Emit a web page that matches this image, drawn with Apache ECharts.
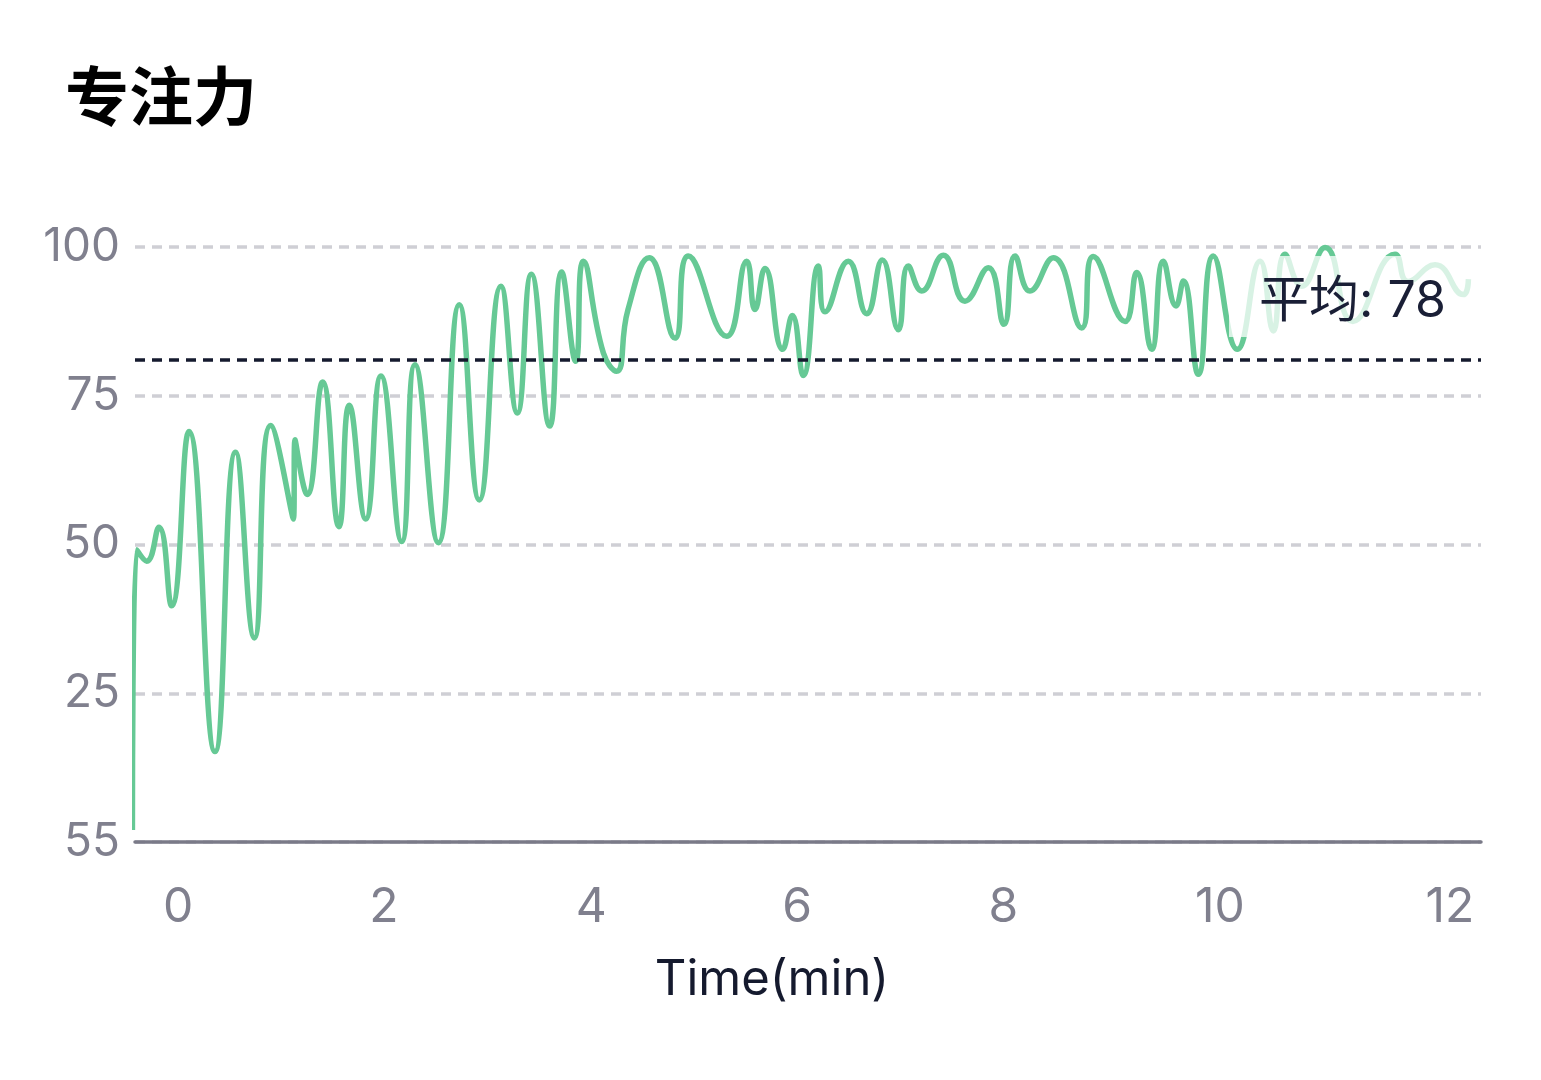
<!DOCTYPE html>
<html>
<head>
<meta charset="utf-8">
<script src="https://cdn.jsdelivr.net/npm/echarts@6/dist/echarts.min.js"></script>
<style>
html,body{margin:0;padding:0;background:#fff;}
#chart{width:1541px;height:1080px;}
</style>
</head>
<body>
<div id="chart"></div>
<script>
// ---- data (time in minutes, focus score) ----
const times = [-0.325,-0.284,-0.187,-0.068,0.055,0.223,0.475,0.675,0.856,1.015,1.235,1.250,1.369,1.518,1.676,1.776,1.935,2.083,2.284,2.413,2.639,2.842,3.036,3.246,3.404,3.540,3.718,3.834,3.970,4.044,4.238,4.366,4.477,4.683,4.932,5.061,5.433,5.627,5.707,5.804,5.976,6.069,6.175,6.321,6.386,6.611,6.790,6.941,7.096,7.193,7.323,7.532,7.742,7.968,8.120,8.227,8.372,8.598,8.873,8.985,9.293,9.406,9.551,9.664,9.787,9.858,10.003,10.148,10.381,10.601,10.730,10.843,11.005,11.231,11.500,11.909,12.035,12.297,12.571,12.620];
const focus = [2.0,49.1,47.2,52.9,39.7,69.0,15.2,65.5,34.3,70.0,54.3,67.6,58.4,77.3,53.0,73.4,54.3,78.3,50.5,80.2,50.3,90.3,57.5,93.4,72.1,95.4,69.9,95.8,80.8,97.6,82.2,79.1,89.5,98.2,84.7,98.5,85.0,97.6,89.5,96.4,82.8,88.5,78.4,96.8,89.1,97.6,88.8,97.8,86.1,96.8,92.6,98.6,90.9,96.5,87.0,98.5,92.6,98.2,86.4,98.4,87.5,95.7,82.8,97.6,90.1,94.3,78.6,98.5,82.8,97.6,85.9,98.8,93.4,99.9,87.5,98.8,94.2,97.0,92.0,94.6];
const yTickValues = [0, 25, 50, 75, 100];
const yTickLabels = ['55', '25', '50', '75', '100'];
const xTickLabels = ['0', '2', '4', '6', '8', '10', '12'];
const avgValue = 81;
const avgLabel = '平均: 78';
const titleText = '专注力';
const xName = 'Time(min)';

const seriesData = times.map((t, i) => [t, focus[i]]);
const FONT = 'Inter, "Noto Sans CJK SC", "Noto Sans", sans-serif';

const chart = echarts.init(document.getElementById('chart'), null, {renderer: 'canvas'});
chart.setOption({
  backgroundColor: '#ffffff',
  animation: false,
  title: {
    text: titleText,
    left: 60,
    top: 64,
    textStyle: {fontFamily: FONT, fontSize: 64, fontWeight: 'bold', color: '#000000'}
  },
  grid: {left: 135, right: 60, top: 247, bottom: 238, containLabel: false},
  xAxis: {
    type: 'value',
    min: -0.3,
    max: 12.742,
    splitNumber: 6,
    name: xName,
    nameLocation: 'middle',
    nameGap: 114,
    nameTextStyle: {fontFamily: FONT, fontSize: 49, color: '#151a2e', padding: [0, 72, 0, 0]},
    axisLine: {show: true, lineStyle: {color: '#7a7a88', width: 3.5, cap: 'round'}},
    axisTick: {show: false},
    splitLine: {show: false},
    axisLabel: {
      showMinLabel: false,
      showMaxLabel: false,
      align: 'left',
      margin: 42,
      fontFamily: FONT,
      fontSize: 48,
      color: '#80808e',
      padding: [0, 0, 0, -3],
      formatter: function (v) {
        const idx = xTickLabels.indexOf(String(v));
        if (idx < 0) return '';
        return idx === xTickLabels.length - 1 ? '{last|' + xTickLabels[idx] + '}' : xTickLabels[idx];
      },
      rich: {
        last: {fontFamily: FONT, fontSize: 48, color: '#80808e', padding: [0, 0, 0, 24]}
      }
    }
  },
  yAxis: {
    type: 'value',
    min: 0,
    max: 100,
    interval: 25,
    axisLine: {show: false},
    axisTick: {show: false},
    axisLabel: {
      margin: 15,
      fontFamily: FONT,
      fontSize: 46,
      color: '#80808e',
      formatter: function (v) {
        const i = yTickValues.indexOf(v);
        return i >= 0 ? yTickLabels[i] : '';
      }
    },
    splitLine: {show: true, lineStyle: {color: '#cfcfd5', width: 3.5, type: [10, 7]}}
  },
  series: [{
    type: 'line',
    data: seriesData,
    smooth: 0.5,
    showSymbol: false,
    clip: false,
    lineStyle: {color: '#66c995', width: 5.5},
    itemStyle: {color: '#66c995'},
    markLine: {
      silent: true,
      symbol: 'none',
      data: [{yAxis: avgValue}],
      lineStyle: {color: '#151a2e', width: 3.5, type: [10, 7]},
      label: {
        show: true,
        position: 'insideEndTop',
        formatter: avgLabel,
        fontFamily: FONT,
        fontSize: 50,
        color: '#1a1f36',
        backgroundColor: 'rgba(255,255,255,0.75)',
        padding: [21, 30, 10, 30],
        distance: [5, 23]
      }
    }
  }]
});
</script>
</body>
</html>
